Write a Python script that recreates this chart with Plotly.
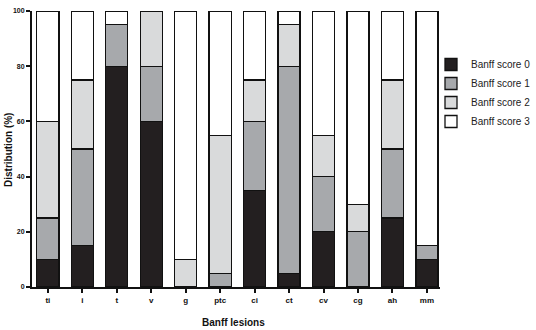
import plotly.graph_objects as go

categories = ["ti", "i", "t", "v", "g", "ptc", "ci", "ct", "cv", "cg", "ah", "mm"]
score0 = [10, 15, 80, 60, 0, 0, 35, 5, 20, 0, 25, 10]
score1 = [15, 35, 15, 20, 0, 5, 25, 75, 20, 20, 25, 5]
score2 = [35, 25, 0, 20, 10, 50, 15, 15, 15, 10, 25, 0]
score3 = [40, 25, 5, 0, 90, 45, 25, 5, 45, 70, 25, 85]
series_names = ["Banff score 0", "Banff score 1", "Banff score 2", "Banff score 3"]
y_ticks = [0, 20, 40, 60, 80, 100]

colors = ["#231f20", "#a7a9ac", "#d9dadb", "#ffffff"]
font_family = "Liberation Sans, Arial, sans-serif"

fig = go.Figure()
for name, vals, col in zip(series_names, [score0, score1, score2, score3], colors):
    fig.add_trace(go.Bar(
        x=list(range(len(categories))), y=vals, name=name,
        marker=dict(color=col, line=dict(color="#111111", width=1.3)),
        width=0.64,
    ))

W, H = 536, 330
ml, mr, mt, mb = 32, 0, 11, 43
pw = W - ml - mr
ph = H - mt - mb

fig.update_layout(
    barmode="stack",
    width=W, height=H,
    margin=dict(l=ml, r=mr, t=mt, b=mb, autoexpand=False),
    plot_bgcolor="white", paper_bgcolor="white",
    font=dict(family=font_family, color="#111111"),
    showlegend=True,
    legend=dict(
        x=(431 - ml) / pw, y=(287 - 50) / ph, xanchor="left", yanchor="top",
        font=dict(size=10, family=font_family, color="#222222"),
        tracegroupgap=0, itemwidth=30,
        traceorder="normal", bgcolor="rgba(0,0,0,0)",
    ),
    annotations=[
        dict(text="<b>Banff lesions</b>", x=(233 - ml) / pw, y=(287 - 322) / ph,
             xref="paper", yref="paper", showarrow=False,
             xanchor="center", yanchor="middle",
             font=dict(size=10, family=font_family, color="#111111")),
        dict(text="<b>Distribution (%)</b>", x=(8 - ml) / pw, y=(287 - 150) / ph,
             xref="paper", yref="paper", showarrow=False, textangle=-90,
             xanchor="center", yanchor="middle",
             font=dict(size=10, family=font_family, color="#111111")),
    ],
)
fig.update_xaxes(
    domain=[0, (440 - ml) / pw],
    range=[-0.46, 11.38],
    tickmode="array", tickvals=list(range(len(categories))), ticktext=categories,
    showline=True, linecolor="#111111", linewidth=2,
    ticks="outside", ticklen=4, tickwidth=1.5, tickcolor="#111111",
    tickfont=dict(size=8, family=font_family, weight="bold"),
    showgrid=False, zeroline=False, automargin=False,
)
fig.update_yaxes(
    range=[0, 100],
    tickmode="array", tickvals=y_ticks,
    showline=True, linecolor="#111111", linewidth=2,
    ticks="outside", ticklen=4, tickwidth=1.5, tickcolor="#111111",
    tickfont=dict(size=7, family=font_family, weight="bold"),
    showgrid=False, zeroline=False, automargin=False,
)

fig.write_html("out.html", config={"displayModeBar": False},
               post_script="document.body.style.margin='0';")
